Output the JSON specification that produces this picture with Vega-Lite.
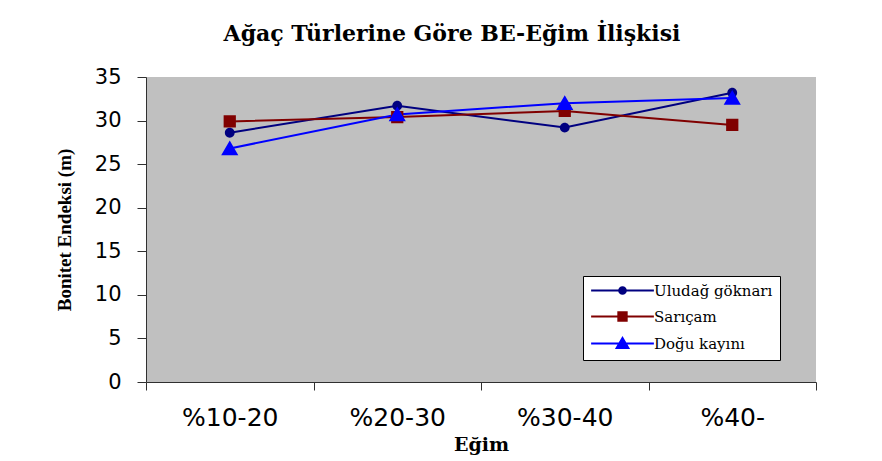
{
"$schema":"https://vega.github.io/schema/vega-lite/v6.json",
"width":670,"height":305,
"autosize":{"type":"none"},
"padding":{"left":146,"top":77,"right":66,"bottom":79},
"background":"white",
"title":{"text":"Ağaç Türlerine Göre BE-Eğim İlişkisi","font":"DejaVu Serif","fontSize":22,"fontWeight":"bold","color":"black","anchor":"middle","dx":-29,"offset":20},
"data":{"values":[
{"egim":"%10-20","tur":"Uludağ göknarı","be":28.6},
{"egim":"%20-30","tur":"Uludağ göknarı","be":31.7},
{"egim":"%30-40","tur":"Uludağ göknarı","be":29.2},
{"egim":"%40-","tur":"Uludağ göknarı","be":33.2},
{"egim":"%10-20","tur":"Sarıçam","be":29.9},
{"egim":"%20-30","tur":"Sarıçam","be":30.4},
{"egim":"%30-40","tur":"Sarıçam","be":31.1},
{"egim":"%40-","tur":"Sarıçam","be":29.5},
{"egim":"%10-20","tur":"Doğu kayını","be":26.8},
{"egim":"%20-30","tur":"Doğu kayını","be":30.7},
{"egim":"%30-40","tur":"Doğu kayını","be":32.0},
{"egim":"%40-","tur":"Doğu kayını","be":32.6}
]},
"encoding":{
 "x":{"field":"egim","type":"ordinal","sort":["%10-20","%20-30","%30-40","%40-"],"scale":{"type":"band","paddingInner":0,"paddingOuter":0},"title":"Eğim",
  "axis":{"labelAngle":0,"tickBand":"extent","tickSize":8,"labelPadding":15,"labelFont":"DejaVu Sans","labelFontSize":25,"labelFontWeight":"normal","labelColor":"black","domainColor":"#303030","tickColor":"#303030","titleFont":"DejaVu Serif","titleFontSize":19,"titleFontWeight":"bold","titleColor":"black","titlePadding":5,"grid":false}},
 "y":{"field":"be","type":"quantitative","scale":{"domain":[0,35],"nice":false},"title":"Bonitet Endeksi (m)",
  "axis":{"values":[0,5,10,15,20,25,30,35],"tickSize":9,"labelPadding":16,"labelFont":"DejaVu Sans","labelFontSize":21,"labelColor":"black","domainColor":"#303030","tickColor":"#303030","titleFont":"Liberation Serif","titleFontSize":19,"titleFontWeight":"bold","titleColor":"black","titlePadding":20,"grid":false}},
 "color":{"field":"tur","type":"nominal","scale":{"domain":["Uludağ göknarı","Sarıçam","Doğu kayını"],"range":["#000080","#800000","#0000FF"]},
   "legend":{"orient":"none","legendX":437,"legendY":199}}
},
"layer":[
 {"mark":{"type":"line","strokeWidth":2}},
 {"mark":{"type":"point","filled":true,"opacity":1,"size":150},
  "encoding":{
   "shape":{"field":"tur","type":"nominal","scale":{"domain":["Uludağ göknarı","Sarıçam","Doğu kayını"],"range":["M-7.5,0H7.5M0.8,0A0.8,0.8,0,1,1,-0.8,0A0.8,0.8,0,1,1,0.8,0Z","M-7.5,0H7.5M-1,-1H1V1H-1Z","M-7.5,0H7.5M0,-1.3L1.4,1.1L-1.4,1.1Z"]},
     "legend":{"orient":"none","legendX":437,"legendY":199}}
  }}
],
"config":{
 "view":{"fill":"#C0C0C0","stroke":null},
 "legend":{"title":null,"fillColor":"white","strokeColor":"black","strokeWidth":1,"cornerRadius":0,"padding":7,"symbolSize":70,"symbolOffset":25,"labelOffset":24,"labelFont":"DejaVu Serif","labelFontSize":15,"labelColor":"black","rowPadding":9,"symbolStrokeWidth":2,"symbolOpacity":1}
}
}
